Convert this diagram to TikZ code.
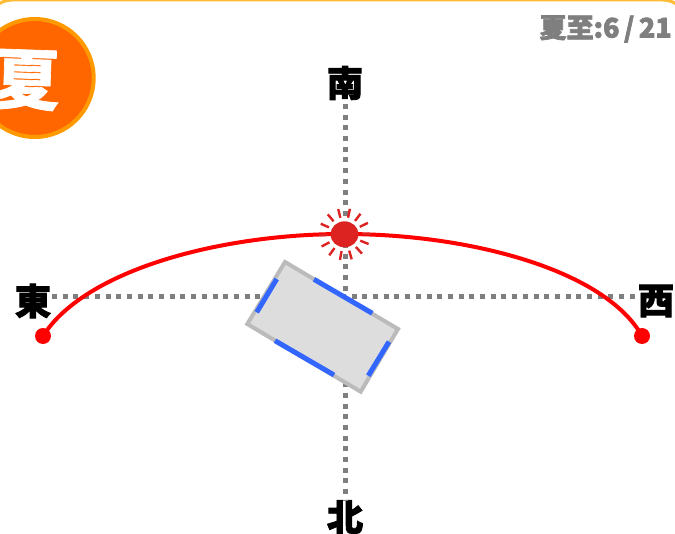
\documentclass[tikz,border=0pt]{standalone}
\usepackage{fontspec}
\usetikzlibrary{calc,shapes.geometric}
\newfontfamily\cjk[BoldFeatures={FakeBold=2.5}]{Noto Sans CJK JP}
\newfontfamily\cjkbadge[BoldFeatures={FakeBold=1}]{Noto Sans CJK JP}
\definecolor{axisgray}{HTML}{7F7F7F}
\definecolor{badge}{HTML}{FF6600}
\definecolor{badgeedge}{HTML}{FF9900}
\definecolor{frameedge}{HTML}{FFBB33}
\definecolor{sunred}{HTML}{DD2222}
\definecolor{pathred}{HTML}{FF0000}
\definecolor{roomfill}{HTML}{DDDDDD}
\definecolor{roomedge}{HTML}{BBBBBB}
\definecolor{windowblue}{HTML}{3366FF}
\tikzset{
  axisline/.style={draw=axisgray,line width=5pt,dash pattern=on 5pt off 5.7pt},
  dirlabel/.style={font=\cjk\bfseries\fontsize{36}{36}\selectfont,text=black,inner sep=0pt},
  windowseg/.style={draw=windowblue,line width=5pt},
  sunray/.style={draw=sunred,line width=2.4pt},
  endpoint/.style={circle,fill=pathred,inner sep=0pt,minimum size=16pt}
}
\begin{document}
\begin{tikzpicture}[x=1pt,y=-1pt]
\useasboundingbox (0,0) rectangle (675,534);
\begin{scope}
\clip (0,0) rectangle (675,534);
\fill[white] (0,0) rectangle (675,534);
\draw[frameedge,line width=3pt,rounded corners=24pt] (-12,0) -- (687,0) -- (687,560) -- (-12,560) -- cycle;
\end{scope}
\node[dirlabel] (s) at (345,83) {南};
\node[dirlabel] (n) at (345,517) {北};
\node[dirlabel] (e) at (33,301) {東};
\node[dirlabel] (w) at (656,301) {西};
\coordinate (nt) at (345,104);
\coordinate (nb) at (345,500);
\coordinate (el) at (52,296.5);
\coordinate (wr) at (637,296.5);
\path[axisline] (nt) -- (nb);
\path[axisline] (el) -- (wr);
% sun path
\node[endpoint] (rise) at (43,336) {};
\node[endpoint] (set) at (642,336) {};
\coordinate (noon) at (344,234);
\draw[pathred,line width=4pt] (rise.center) .. controls (85,270) and (220,234) .. (noon) .. controls (470,234) and (605,270) .. (set.center);
% sun
\node[ellipse,fill=sunred,inner sep=0pt,minimum width=28pt,minimum height=26pt] (sun) at (344.5,234.3) {};
\foreach \a in {0,26,52,78,104,130,156,182,208,234,260,286,312,338}
  \draw[sunray] ($(sun.center)+(\a:17pt)$) -- ($(sun.center)+(\a:26pt)$);
% room
\coordinate (ra) at (285,262);
\coordinate (rb) at (398,329);
\coordinate (rc) at (360.7,391.7);
\coordinate (rd) at (247.3,324);
\draw[fill=roomfill,draw=roomedge,line width=4pt] (ra) -- (rb) -- (rc) -- (rd) -- cycle;
\coordinate (t1) at (314,279.3);
\coordinate (t2) at (372.3,313.3);
\coordinate (l1) at (276.7,279);
\coordinate (l2) at (256.7,312.3);
\coordinate (b1) at (275,340.7);
\coordinate (b2) at (334,375);
\coordinate (r1) at (389,341.7);
\coordinate (r2) at (368.3,375.7);
\draw[windowseg] (t1) -- (t2);
\draw[windowseg] (l1) -- (l2);
\draw[windowseg] (b1) -- (b2);
\draw[windowseg] (r1) -- (r2);
% badge
\node[circle,fill=badge,draw=badgeedge,line width=4pt,minimum size=118pt,inner sep=0pt] (badgec) at (34.7,78) {};
\node[font=\cjkbadge\bfseries\fontsize{66}{66}\selectfont,text=white,inner sep=0pt,rotate=-2] (season) at (27,80) {夏};
\node[font=\cjk\bfseries\fontsize{27}{27}\selectfont,text=axisgray,inner sep=0pt,anchor=east] (date) at (672,29) {夏至:6\,/\,21};
\end{tikzpicture}
\end{document}
